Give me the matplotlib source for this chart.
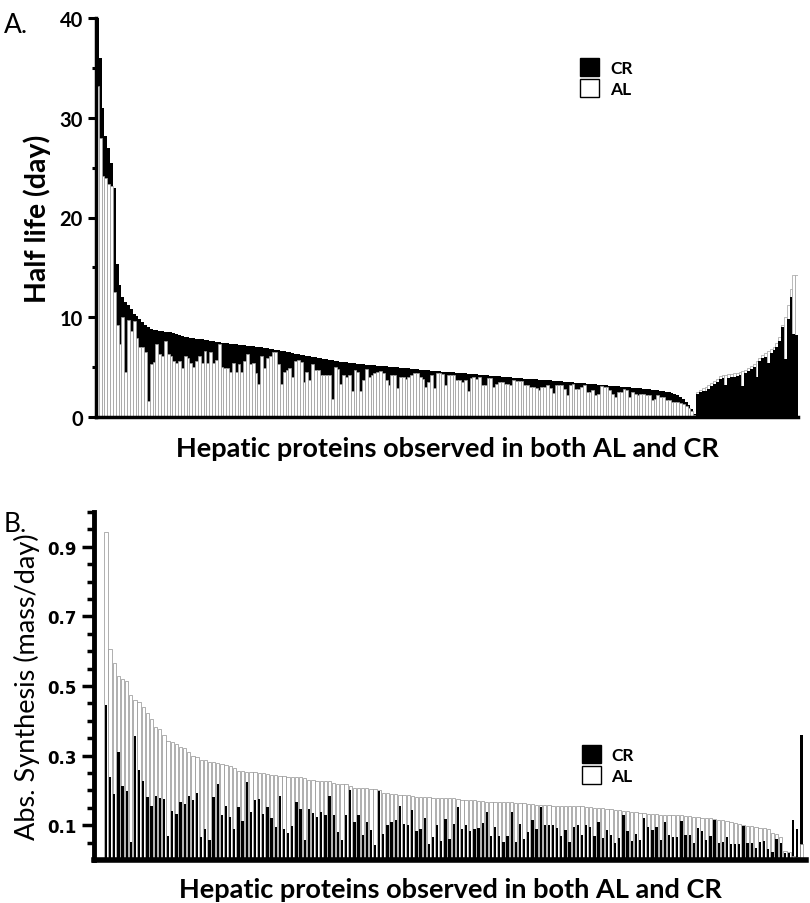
import numpy as np
import matplotlib
matplotlib.use("Agg")
import matplotlib.pyplot as plt
from matplotlib.patches import Patch

# ---- Panel A: half life (day), CR vs AL, per protein ----
cr_a = [
    40.0, 36.0, 31.0, 28.2, 27.0, 25.5, 23.0, 15.3, 13.2, 12.0,
    11.5, 11.2, 10.8, 10.3, 10.1, 9.8, 9.5, 9.2, 9.0, 8.8,
    8.7, 8.7, 8.6, 8.6, 8.5, 8.5, 8.5, 8.4, 8.3, 8.2,
    8.1, 8.0, 8.0, 7.9, 7.9, 7.8, 7.8, 7.8, 7.7, 7.7,
    7.6, 7.6, 7.5, 7.5, 7.4, 7.4, 7.4, 7.3, 7.3, 7.3,
    7.2, 7.2, 7.2, 7.1, 7.1, 7.1, 7.0, 7.0, 7.0, 6.9,
    6.9, 6.8, 6.8, 6.7, 6.7, 6.6, 6.6, 6.5, 6.5, 6.4,
    6.3, 6.3, 6.2, 6.2, 6.1, 6.1, 6.0, 6.0, 5.9, 5.9,
    5.8, 5.8, 5.7, 5.7, 5.6, 5.6, 5.5, 5.5, 5.5, 5.4,
    5.4, 5.4, 5.3, 5.3, 5.3, 5.2, 5.2, 5.2, 5.2, 5.1,
    5.1, 5.1, 5.1, 5.0, 5.0, 5.0, 5.0, 4.9, 4.9, 4.9,
    4.9, 4.8, 4.8, 4.8, 4.7, 4.7, 4.7, 4.7, 4.6, 4.6,
    4.6, 4.6, 4.5, 4.5, 4.5, 4.5, 4.5, 4.4, 4.4, 4.4,
    4.4, 4.3, 4.3, 4.3, 4.3, 4.2, 4.2, 4.2, 4.2, 4.1,
    4.1, 4.1, 4.1, 4.0, 4.0, 4.0, 4.0, 3.9, 3.9, 3.9,
    3.9, 3.8, 3.8, 3.8, 3.8, 3.8, 3.7, 3.7, 3.7, 3.7,
    3.7, 3.6, 3.6, 3.6, 3.6, 3.5, 3.5, 3.5, 3.5, 3.4,
    3.4, 3.4, 3.4, 3.3, 3.3, 3.3, 3.3, 3.2, 3.2, 3.2,
    3.2, 3.1, 3.1, 3.1, 3.1, 3.0, 3.0, 3.0, 3.0, 2.9,
    2.9, 2.9, 2.9, 2.8, 2.8, 2.8, 2.7, 2.7, 2.7, 2.6,
    2.6, 2.5, 2.5, 2.4, 2.3, 2.2, 2.0, 1.8, 1.5, 1.2,
    0.8, 0.3,
    2.3, 2.5, 2.6, 2.6, 2.8, 3.1, 3.3, 3.5, 3.8, 3.9,
    3.2, 3.9, 4.0, 4.0, 4.1, 4.2, 3.1, 4.4, 4.6, 4.8,
    5.0, 4.0, 5.6, 5.9, 6.0, 5.4, 6.4, 6.7, 7.0, 7.6,
    9.0, 5.8, 9.8, 12.0, 8.3, 8.2,
]
al_a = [
    33.2, 28.0, 24.2, 24.0, 23.4, 23.2, 12.5, 9.2, 7.3, 10.0,
    4.5, 9.7, 8.6, 9.6, 7.9, 7.0, 7.0, 6.5, 1.6, 5.3,
    5.5, 7.3, 6.3, 6.1, 7.6, 6.3, 6.1, 5.6, 5.4, 5.6,
    4.9, 6.1, 5.9, 5.4, 5.0, 5.6, 6.1, 5.4, 6.6, 5.4,
    6.5, 5.4, 5.7, 7.3, 5.0, 4.9, 4.9, 4.5, 5.4, 4.5,
    5.3, 4.5, 5.6, 6.3, 5.3, 5.4, 4.4, 3.3, 6.1, 4.9,
    5.9, 6.1, 6.5, 6.5, 5.3, 3.3, 4.5, 4.7, 4.9, 4.0,
    5.6, 5.7, 5.5, 3.5, 4.5, 3.7, 5.3, 4.7, 4.7, 4.2,
    4.2, 4.2, 4.2, 1.8, 5.0, 4.8, 3.3, 4.2, 4.0, 4.2,
    2.6, 4.7, 4.5, 2.6, 3.7, 4.8, 4.0, 4.2, 4.4, 4.5,
    4.6, 4.4, 3.7, 3.2, 4.2, 4.2, 2.9, 4.0, 4.0, 3.8,
    4.0, 4.2, 4.4, 4.4, 4.0, 3.8, 3.0, 3.5, 4.2, 2.9,
    4.4, 4.4, 4.3, 3.2, 4.2, 4.2, 4.2, 3.7, 3.7, 3.5,
    3.7, 2.6, 3.9, 4.0, 3.8, 4.0, 3.2, 3.2, 3.9, 3.9,
    3.0, 3.3, 3.5, 3.5, 3.3, 3.3, 3.2, 3.7, 3.6, 3.6,
    3.6, 3.2, 3.2, 3.0, 3.0, 2.9, 2.7, 3.0, 3.0, 3.2,
    2.9, 2.4, 3.2, 3.2, 3.2, 2.8, 2.2, 3.2, 3.3, 2.8,
    2.8, 3.0, 3.2, 2.5, 2.5, 2.7, 2.2, 2.3, 3.1, 3.0,
    3.0, 2.7, 2.3, 2.0, 2.5, 2.5, 2.8, 2.7, 2.0, 2.5,
    2.3, 2.2, 2.3, 2.3, 2.2, 2.2, 1.7, 1.8, 2.2, 2.0,
    2.0, 1.7, 1.7, 1.5, 1.5, 1.5, 1.4, 1.3, 1.1, 0.9,
    0.6, 0.2,
    2.5, 2.7, 2.9, 3.0, 3.2, 3.4, 3.6, 3.8, 4.1, 4.2,
    4.2, 4.3, 4.3, 4.4, 4.4, 4.5, 4.6, 4.7, 4.9, 5.1,
    5.3, 5.6, 5.9, 6.2, 6.4, 6.6, 6.8, 7.0, 7.4, 8.0,
    9.2, 10.0, 11.2, 12.8, 14.2, 14.2,
]

# ---- Panel B: absolute synthesis (mass/day) ----
al_b = [
    0.943, 0.605, 0.567, 0.530, 0.521, 0.513, 0.473, 0.459, 0.454, 0.439,
    0.423, 0.406, 0.382, 0.377, 0.360, 0.343, 0.340, 0.334, 0.324, 0.321,
    0.310, 0.300, 0.295, 0.288, 0.286, 0.283, 0.281, 0.279, 0.276, 0.274,
    0.271, 0.264, 0.257, 0.257, 0.254, 0.252, 0.252, 0.250, 0.249, 0.247,
    0.244, 0.243, 0.241, 0.241, 0.238, 0.238, 0.238, 0.238,
    0.236, 0.231, 0.229, 0.228, 0.228, 0.227, 0.226,
    0.220, 0.218, 0.218, 0.217, 0.212,
    0.208, 0.207, 0.207, 0.206, 0.205, 0.203, 0.200,
    0.193, 0.192, 0.191, 0.190,
    0.187, 0.186, 0.186, 0.185,
    0.182, 0.181, 0.181, 0.180,
    0.179, 0.178, 0.178, 0.178, 0.177, 0.177,
    0.174, 0.173, 0.172, 0.172, 0.171, 0.170, 0.169,
    0.168, 0.168, 0.168, 0.167, 0.167, 0.167, 0.166, 0.165,
    0.164, 0.163, 0.162, 0.160, 0.158, 0.157,
    0.157, 0.157, 0.156, 0.156, 0.156, 0.155, 0.155, 0.155, 0.154, 0.154,
    0.152, 0.151, 0.150, 0.149, 0.148, 0.147, 0.146, 0.145,
    0.143, 0.142, 0.140, 0.138, 0.137, 0.135, 0.134, 0.133,
    0.131, 0.131, 0.130, 0.130, 0.129, 0.129, 0.128, 0.128, 0.127,
    0.126, 0.125, 0.124, 0.122, 0.121, 0.120, 0.118, 0.116, 0.114, 0.112,
    0.110, 0.106, 0.103, 0.100,
    0.097, 0.097, 0.094, 0.091, 0.091, 0.089, 0.079, 0.075, 0.065,
    0.027, 0.024, 0.012, 0.010, 0.046,
]
cr_b = [
    0.444, 0.238, 0.190, 0.310, 0.212, 0.198, 0.053, 0.356, 0.260, 0.228,
    0.180, 0.154, 0.183, 0.178, 0.175, 0.068, 0.142, 0.132, 0.166, 0.161,
    0.183, 0.171, 0.193, 0.065, 0.089, 0.058, 0.180, 0.219, 0.129, 0.156,
    0.123, 0.089, 0.152, 0.113, 0.225, 0.137, 0.171, 0.176, 0.132, 0.152,
    0.120, 0.094, 0.183, 0.088, 0.078, 0.098, 0.166, 0.146,
    0.058, 0.147, 0.134, 0.125, 0.137, 0.130, 0.185, 0.130, 0.080, 0.058,
    0.130, 0.201, 0.110, 0.128, 0.072, 0.110, 0.086, 0.044, 0.197, 0.075,
    0.101, 0.110, 0.116, 0.156, 0.104, 0.102, 0.145, 0.082, 0.089, 0.122,
    0.046, 0.065, 0.102, 0.054, 0.118, 0.059, 0.104, 0.151, 0.089, 0.102,
    0.082, 0.089, 0.092, 0.107, 0.139, 0.070, 0.095, 0.068, 0.053, 0.070,
    0.139, 0.051, 0.104, 0.061, 0.080, 0.116, 0.090, 0.151,
    0.102, 0.102, 0.102, 0.092, 0.068, 0.086, 0.053, 0.094, 0.102, 0.073,
    0.102, 0.094, 0.068, 0.109, 0.062, 0.087, 0.073, 0.049, 0.062, 0.128,
    0.084, 0.055, 0.075, 0.058, 0.122, 0.095, 0.085, 0.096, 0.058, 0.110,
    0.072, 0.065, 0.066, 0.112, 0.073, 0.073, 0.048, 0.093, 0.082, 0.058,
    0.070, 0.114, 0.048, 0.051, 0.066, 0.045, 0.045, 0.045, 0.098, 0.049,
    0.049, 0.035, 0.052, 0.054, 0.032, 0.022, 0.061, 0.048,
    0.021, 0.020, 0.116, 0.089, 0.358,
]

xlabel = "Hepatic proteins observed in both AL and CR"


def overlay(ax, cr, al, w_white, w_black, edge):
    cr = np.asarray(cr)
    al = np.asarray(al)
    x = np.arange(len(cr))
    crtall = cr >= al
    # taller one behind, shorter one in front
    ax.bar(x[crtall], cr[crtall], width=w_black, color="black", lw=0, zorder=1)
    ax.bar(x[~crtall], al[~crtall], width=w_white, color="white",
           edgecolor=edge, lw=0.5, zorder=1)
    ax.bar(x[crtall], al[crtall], width=w_white, color="white",
           edgecolor=edge, lw=0.5, zorder=2)
    ax.bar(x[~crtall], cr[~crtall], width=w_black, color="black", lw=0, zorder=2)
    return len(cr)


def legend(ax, anchor):
    ax.legend(handles=[Patch(facecolor="black", edgecolor="black"),
                       Patch(facecolor="white", edgecolor="black")],
              labels=["CR", "AL"], loc="upper left", bbox_to_anchor=anchor,
              frameon=False, handlelength=1.1, handleheight=1.2,
              handletextpad=0.6, labelspacing=0.2, borderpad=0,
              borderaxespad=0,
              prop={"family": "Lato", "weight": "bold", "size": 12.5})


fig = plt.figure(figsize=(8.1, 9.04), dpi=100)

# panel A
axa = fig.add_axes([96 / 810, 1 - 418 / 904, 702 / 810, 399 / 904])
n = overlay(axa, cr_a, al_a, 1.0, 1.0, "#a0a0a0")
axa.set_xlim(-0.5, n - 0.5)
axa.set_ylim(0, 40)
axa.set_yticks([0, 10, 20, 30, 40])
axa.set_yticks([5, 15, 25, 35], minor=True)
axa.set_xticks([])
for s in ["top", "right"]:
    axa.spines[s].set_visible(False)
axa.spines["left"].set_linewidth(2.5)
axa.spines["bottom"].set_linewidth(2.5)
axa.tick_params(axis="y", which="major", length=6, width=2.2)
axa.tick_params(axis="y", which="minor", length=3, width=2.2)
for t in axa.get_yticklabels():
    t.set_fontfamily("Lato")
    t.set_fontweight("bold")
    t.set_fontsize(14.5)
axa.set_ylabel("Half life (day)", family="Lato", weight="bold", fontsize=20.5,
               labelpad=6)
axa.set_xlabel(xlabel, family="Lato", weight="bold", fontsize=19.5, labelpad=14)
legend(axa, (0.69, 0.9))
fig.text(4 / 810, 1 - 33 / 904, "A.", family="Lato", fontsize=19)

# panel B
axb = fig.add_axes([94 / 810, 1 - 861 / 904, 712 / 810, 348 / 904])
n = overlay(axb, cr_b, al_b, 0.8, 0.55, "#909090")
axb.set_xlim(-2.9, n + 0.1)
axb.set_ylim(0, 1.0)
axb.set_yticks([0.1, 0.3, 0.5, 0.7, 0.9])
axb.set_yticks(np.arange(0.05, 1.001, 0.05), minor=True)
axb.set_xticks([])
for s in ["top", "right"]:
    axb.spines[s].set_visible(False)
axb.spines["left"].set_linewidth(3.5)
axb.spines["bottom"].set_linewidth(4)
axb.tick_params(axis="y", which="major", length=9, width=2.5)
axb.tick_params(axis="y", which="minor", length=5, width=2.5)
for t in axb.get_yticklabels():
    t.set_fontfamily("DejaVu Sans")
    t.set_fontweight("bold")
    t.set_fontsize(12)
axb.set_ylabel("Abs. Synthesis (mass/day)", family="Lato", fontsize=19.5,
               labelpad=5)
axb.set_xlabel(xlabel, family="Lato", weight="bold", fontsize=19.5, labelpad=12)
legend(axb, (0.685, 0.33))
fig.text(4 / 810, 1 - 532 / 904, "B.", family="Lato", fontsize=19)

fig.savefig("out.png", dpi=100)
